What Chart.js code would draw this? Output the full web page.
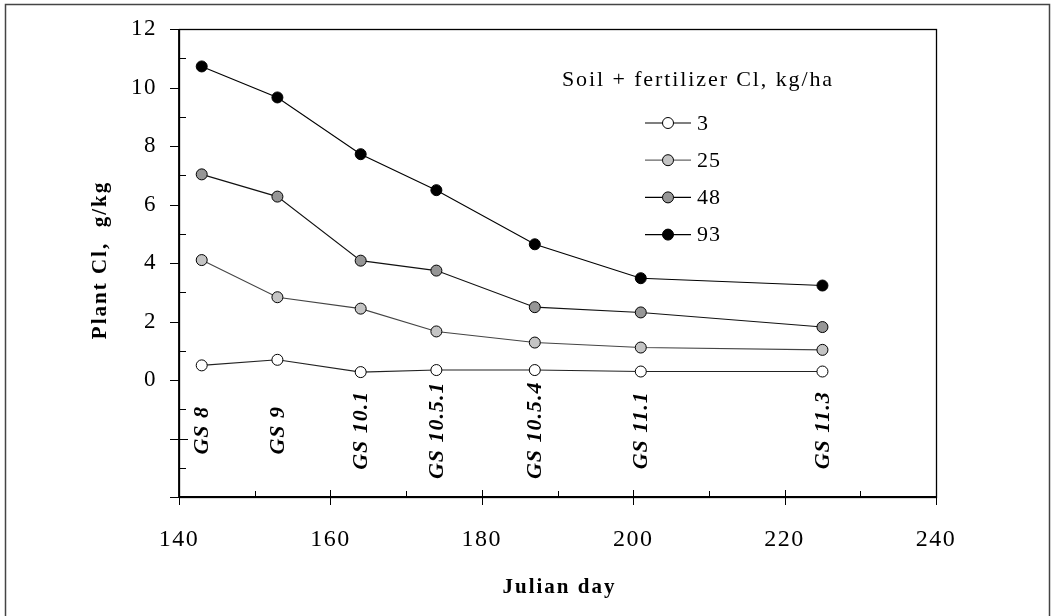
<!DOCTYPE html>
<html>
<head>
<meta charset="utf-8">
<script src="https://cdn.jsdelivr.net/npm/chart.js@4/dist/chart.umd.min.js"></script>
<style>
html,body{margin:0;padding:0;background:#fff;}
#wrap{width:1051px;height:616px;position:relative;}
</style>
</head>
<body>
<div id="wrap"><canvas id="c" width="1051" height="616"></canvas></div>
<script>
// ---- data ----
const julianDays = [143, 153, 164, 174, 187, 201, 225];
const stageLabels = ["GS 8", "GS 9", "GS 10.1", "GS 10.5.1", "GS 10.5.4", "GS 11.1", "GS 11.3"];
const seriesNames = ["3", "25", "48", "93"];
const cl3  = [0.50, 0.69, 0.27, 0.34, 0.34, 0.29, 0.29];
const cl25 = [4.10, 2.83, 2.44, 1.66, 1.28, 1.11, 1.03];
const cl48 = [7.03, 6.27, 4.08, 3.74, 2.49, 2.31, 1.81];
const cl93 = [10.72, 9.66, 7.72, 6.49, 4.64, 3.48, 3.23];
const yTickLabels = [0, 2, 4, 6, 8, 10, 12];
const xTickLabels = [140, 160, 180, 200, 220, 240];
const legendTitle = "Soil + fertilizer Cl, kg/ha";
const xTitle = "Julian day";
const yTitle = "Plant Cl,  g/kg";

const fills = ["#ffffff", "#c4c4c4", "#969696", "#000000"];
const lineCols = ["#222222", "#444444", "#111111", "#000000"];
const allSeries = [cl3, cl25, cl48, cl93];

const SERIF = "'Liberation Serif','Times New Roman',serif";

const datasets = allSeries.map((vals, i) => ({
  label: seriesNames[i],
  data: julianDays.map((d, k) => ({x: d, y: vals[k]})),
  borderColor: lineCols[i],
  borderWidth: 1.1,
  backgroundColor: fills[i],
  pointBackgroundColor: fills[i],
  pointBorderColor: "#000",
  pointBorderWidth: 1,
  pointRadius: 5.5,
  pointHoverRadius: 5.5,
  tension: 0,
  fill: false
}));

const decor = {
  id: 'decor',
  beforeDraw(chart) { chart.ctx.letterSpacing = "1.5px"; },
  beforeDatasetsDraw(chart) { chart.ctx.letterSpacing = "0px"; },
  afterDraw(chart) {
    const ctx = chart.ctx;
    const xs = chart.scales.x, ys = chart.scales.y;
    const a = chart.chartArea;
    ctx.save();
    ctx.letterSpacing = "0px";
    // outer frame
    ctx.strokeStyle = "#444";
    ctx.lineWidth = 1.5;
    ctx.beginPath();
    ctx.moveTo(5.5, 616); ctx.lineTo(5.5, 4.5); ctx.lineTo(1049.5, 4.5); ctx.lineTo(1049.5, 616);
    ctx.stroke();
    // plot box
    ctx.strokeStyle = "#000";
    ctx.lineWidth = 1.3;
    ctx.strokeRect(Math.round(a.left) + 0.5, Math.round(a.top) + 0.5, Math.round(a.right - a.left), Math.round(a.bottom - a.top));
    ctx.lineWidth = 1.8;
    ctx.beginPath();
    ctx.moveTo(a.left, a.top); ctx.lineTo(a.left, a.bottom); ctx.lineTo(a.right, a.bottom);
    ctx.stroke();
    // y ticks
    ctx.lineWidth = 1;
    ctx.beginPath();
    for (let v = ys.min; v <= ys.max; v++) {
      const py = Math.round(ys.getPixelForValue(v)) + 0.5;
      if (v % 2 === 0) {
        ctx.moveTo(a.left - 9, py); ctx.lineTo(a.left + (v < 0 ? 9 : 0), py);
      } else {
        ctx.moveTo(a.left, py); ctx.lineTo(a.left + 7, py);
      }
    }
    // x ticks
    for (let v = xs.min; v <= xs.max; v += 10) {
      const px = Math.round(xs.getPixelForValue(v)) + 0.5;
      if (v % 20 === 0) {
        ctx.moveTo(px, a.bottom - 7); ctx.lineTo(px, a.bottom + 8);
      } else {
        ctx.moveTo(px, a.bottom - 6); ctx.lineTo(px, a.bottom);
      }
    }
    ctx.stroke();

    // axis titles
    ctx.fillStyle = "#000";
    ctx.font = "bold 21px " + SERIF;
    ctx.letterSpacing = "2px";
    ctx.textAlign = "center";
    ctx.textBaseline = "middle";
    ctx.fillText(xTitle, (a.left + a.right) / 2 + 2, 588);
    ctx.save();
    ctx.translate(101, 260);
    ctx.rotate(-Math.PI / 2);
    ctx.fillText(yTitle, 0, 0);
    ctx.restore();

    // growth stage labels
    ctx.font = "italic bold 22px " + SERIF;
    ctx.letterSpacing = "1px";
    stageLabels.forEach((s, i) => {
      const px = xs.getPixelForValue(julianDays[i]);
      const py = ys.getPixelForValue(-1.72);
      ctx.save();
      ctx.translate(px + 1, py);
      ctx.rotate(-Math.PI / 2);
      ctx.fillText(s, 0, 0);
      ctx.restore();
    });

    // legend
    ctx.letterSpacing = "1.9px";
    ctx.font = "22px " + SERIF;
    ctx.textAlign = "center";
    ctx.fillText(legendTitle, 698, 80);
    ctx.letterSpacing = "1px";
    ctx.textAlign = "left";
    chart.data.datasets.forEach((ds, i) => {
      const cy = 123 + i * 37.2;
      ctx.strokeStyle = i === 1 ? "#666" : "#000";
      ctx.lineWidth = 1.2;
      ctx.beginPath();
      ctx.moveTo(645, cy); ctx.lineTo(691, cy);
      ctx.stroke();
      ctx.beginPath();
      ctx.arc(668, cy, 5.5, 0, Math.PI * 2);
      ctx.fillStyle = ds.pointBackgroundColor;
      ctx.fill();
      ctx.strokeStyle = "#000";
      ctx.lineWidth = 1;
      ctx.stroke();
      ctx.fillStyle = "#000";
      ctx.fillText(ds.label, 697, cy + 1);
    });
    ctx.restore();
  }
};

new Chart(document.getElementById('c'), {
  type: 'line',
  data: { datasets },
  options: {
    responsive: false,
    animation: false,
    events: [],
    layout: { padding: { left: 0, top: 29, right: 115, bottom: 0 } },
    plugins: { legend: { display: false }, tooltip: { enabled: false } },
    scales: {
      x: {
        type: 'linear',
        min: 140, max: 240,
        afterFit(s) { s.height = 119; s.paddingLeft = 0; s.paddingRight = 0; },
        border: { display: false },
        grid: { drawOnChartArea: false, drawTicks: false },
        ticks: {
          stepSize: 20,
          padding: 28,
          color: "#000",
          font: { family: SERIF, size: 24 },
          maxRotation: 0,
          callback: v => xTickLabels.includes(v) ? String(v) : ''
        }
      },
      y: {
        type: 'linear',
        min: -4, max: 12,
        afterFit(s) { s.width = 179; s.paddingTop = 0; s.paddingBottom = 0; },
        border: { display: false },
        grid: { drawOnChartArea: false, drawTicks: false },
        ticks: {
          stepSize: 2,
          padding: 22,
          color: "#000",
          font: { family: SERIF, size: 23 },
          callback: v => yTickLabels.includes(v) ? String(v) : ''
        }
      }
    }
  },
  plugins: [decor]
});
</script>
</body>
</html>
